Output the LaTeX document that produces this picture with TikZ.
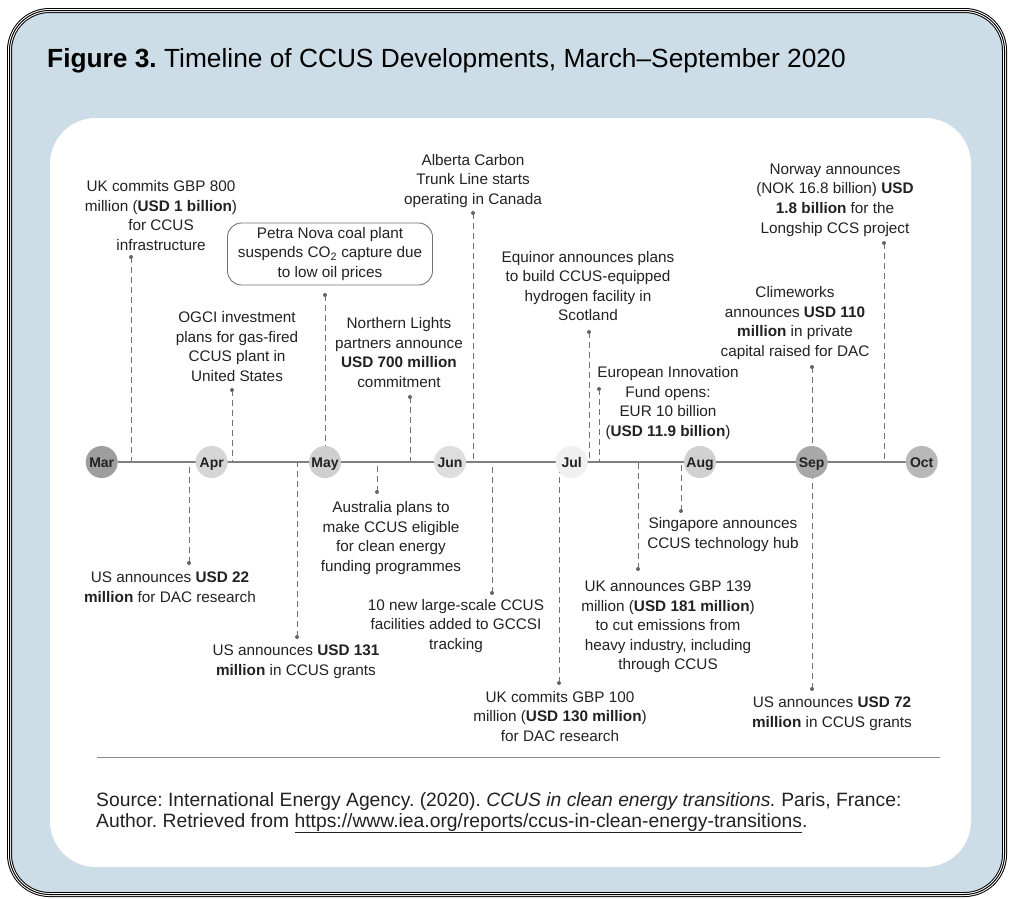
\documentclass[tikz,border=0pt]{standalone}
\usepackage{fontspec}
\setmainfont{Liberation Sans}
\pgfdeclarelayer{back}
\pgfdeclarelayer{mid}
\pgfsetlayers{back,mid,main}
\definecolor{panelblue}{RGB}{205,221,231}
\definecolor{inkgray}{RGB}{34,34,34}
\begin{document}
\frenchspacing
\begin{tikzpicture}[x=1pt,y=-1pt,
  evt/.style={align=center, inner sep=0pt, text=inkgray,
    font=\fontsize{15.3}{19.6}\selectfont},
  month/.style={circle, minimum size=32pt, inner sep=0pt, text=inkgray,
    text height=10pt, text depth=0pt,
    font=\fontsize{14}{14}\selectfont\bfseries},
  pin/.style={circle, fill=black!60, minimum size=4pt, inner sep=0pt},
  lead/.style={draw=black!55, line width=0.9pt, dash pattern=on 6pt off 4pt},
  axis/.style={draw=black!50, line width=1.4pt},
  srcline/.style={anchor=base west, inner sep=0pt, text=inkgray,
    font=\fontsize{19.3}{23}\selectfont},
]
\useasboundingbox (0,0) rectangle (1013,898);

% ---- frame and panel ----
\begin{pgfonlayer}{back}
\fill[panelblue, rounded corners=40pt] (9.5,10.5) rectangle (1004.5,894.5);
\draw[black, line width=5pt, rounded corners=40pt] (9.5,10.5) rectangle (1004.5,894.5);
\draw[white, line width=3pt, rounded corners=40pt] (9.5,10.5) rectangle (1004.5,894.5);
\draw[black, line width=1pt, rounded corners=40pt] (9.5,10.5) rectangle (1004.5,894.5);
\fill[white, rounded corners=46pt] (50,118) rectangle (971,867);
\end{pgfonlayer}

% ---- title ----
\node[anchor=base west, inner sep=0pt, text=black, font=\fontsize{26.3}{30}\selectfont]
  (title) at (47,67) {\textbf{Figure 3.} Timeline of CCUS Developments, March–September 2020};

% ---- months ----
\node[month, fill=black!38] (mar) at (101.7,462) {Mar};
\node[month, fill=black!16] (apr) at (211.7,462) {Apr};
\node[month, fill=black!19] (may) at (325,462) {May};
\node[month, fill=black!13] (jun) at (450,462) {Jun};
\node[month, fill=black!6]  (jul) at (571.7,462) {Jul};
\node[month, fill=black!18] (aug) at (700,462) {Aug};
\node[month, fill=black!34] (sep) at (811.7,462) {Sep};
\node[month, fill=black!28] (oct) at (921.7,462) {Oct};

% ---- events above the line ----
\node[evt] (ukA) at (161,215.5) {UK commits GBP 800\\million (\textbf{USD 1 billion})\\for CCUS\\infrastructure};
\node[pin] (pUKA) at (131,257) {};

\node[evt, draw=black!55, line width=0.9pt, rounded corners=14pt,
  minimum width=205pt, minimum height=62pt] (petra) at (330,254)
  {Petra Nova coal plant\\suspends CO\textsubscript{2} capture due\\to low oil prices};
\node[pin] (pPetra) at (325,295) {};

\node[evt] (ogci) at (237,346.5) {OGCI investment\\plans for gas-fired\\CCUS plant in\\United States};
\node[pin] (pOgci) at (232,390) {};

\node[evt] (north) at (399,352.5) {Northern Lights\\partners announce\\\textbf{USD 700 million}\\commitment};
\node[pin] (pNorth) at (410,397) {};

\node[evt] (alberta) at (473,181) {Alberta Carbon\\Trunk Line starts\\operating in Canada};
\node[pin] (pAlberta) at (473,213) {};

\node[evt] (equinor) at (588,286) {Equinor announces plans\\to build CCUS-equipped\\hydrogen facility in\\Scotland};
\node[pin] (pEquinor) at (589,332) {};

\node[evt] (euro) at (668,403) {European Innovation\\Fund opens:\\EUR 10 billion\\(\textbf{USD 11.9 billion})};
\node[pin] (pEuro) at (599,389) {};

\node[evt] (norway) at (835,200) {Norway announces\\(NOK 16.8 billion) \textbf{USD}\\\textbf{1.8 billion} for the\\Longship CCS project};
\node[pin] (pNorway) at (884,243) {};

\node[evt] (clime) at (795,323) {Climeworks\\announces \textbf{USD 110}\\\textbf{million} in private\\capital raised for DAC};
\node[pin] (pClime) at (812,367) {};

% ---- events below the line ----
\node[evt] (usDac) at (170,587.5) {US announces \textbf{USD 22}\\\textbf{million} for DAC research};
\node[pin] (pUsDac) at (189,563) {};

\node[evt] (us131) at (296,662) {US announces \textbf{USD 131}\\\textbf{million} in CCUS grants};
\node[pin] (pUs131) at (297,637) {};

\node[evt] (austr) at (391,538) {Australia plans to\\make CCUS eligible\\for clean energy\\funding programmes};
\node[pin] (pAustr) at (377,492) {};

\node[evt] (gccsi) at (456,626) {10 new large-scale CCUS\\facilities added to GCCSI\\tracking};
\node[pin] (pGccsi) at (492,593) {};

\node[evt] (ukB) at (560,716.5) {UK commits GBP 100\\million (\textbf{USD 130 million})\\for DAC research};
\node[pin] (pUKB) at (559,683) {};

\node[evt] (sing) at (723,534.5) {Singapore announces\\CCUS technology hub};
\node[pin] (pSing) at (681,511) {};

\node[evt] (ukC) at (668,627) {UK announces GBP 139\\million (\textbf{USD 181 million})\\to cut emissions from\\heavy industry, including\\through CCUS};
\node[pin] (pUKC) at (638,569) {};

\node[evt] (us72) at (832,713.5) {US announces \textbf{USD 72}\\\textbf{million} in CCUS grants};
\node[pin] (pUs72) at (812,689) {};

% ---- timeline and leader lines ----
\begin{pgfonlayer}{mid}
\draw[axis] (mar) -- (oct);
\foreach \p in {pUKA,pPetra,pOgci,pNorth,pAlberta,pEquinor,pEuro,pNorway,pClime,
                pUsDac,pUs131,pAustr,pGccsi,pUKB,pSing,pUKC,pUs72}
  \draw[lead] (\p.center) -- (\p.center |- mar.center);
\end{pgfonlayer}

% ---- source ----
\coordinate (ruleL) at (97,757);
\coordinate (ruleR) at (940,757);
\draw[black!45, line width=0.9pt] (ruleL) -- (ruleR);
\node[srcline] (src1) at (96,806) {Source: International Energy Agency. (2020). \textit{CCUS in clean energy transitions.} Paris, France:};
\node[srcline] (src2) at (96,827) {Author. Retrieved from \underline{https://www.iea.org/reports/ccus-in-clean-energy-transitions}.};
\end{tikzpicture}
\end{document}
